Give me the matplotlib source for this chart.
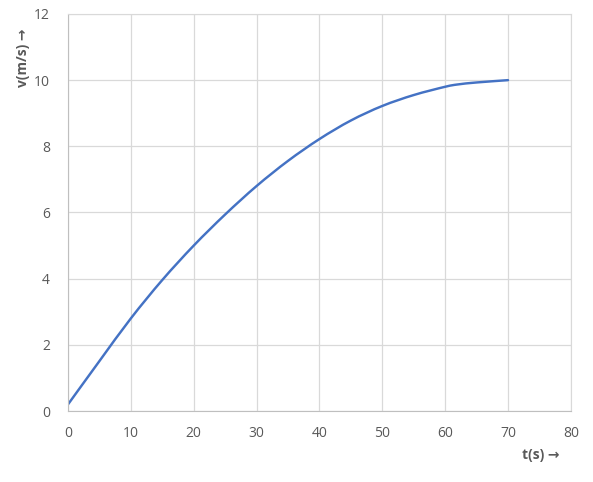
import matplotlib
matplotlib.use("Agg")
import matplotlib.pyplot as plt
from matplotlib.path import Path
from matplotlib.patches import PathPatch

t = [0, 5, 10, 15, 20, 25, 30, 35, 40, 45, 50, 55, 60, 62, 65, 70]
v = [0.2, 1.51, 2.8, 3.96, 5.0, 5.94, 6.8, 7.56, 8.22, 8.78, 9.22, 9.55, 9.8, 9.87, 9.93, 10.0]

xticks = [0, 10, 20, 30, 40, 50, 60, 70, 80]
yticks = [0, 2, 4, 6, 8, 10, 12]


def smooth_path(xs, ys):
    # excel-like smoothed line: cubic bezier through every point
    verts = [(xs[0], ys[0])]
    codes = [Path.MOVETO]
    n = len(xs)
    for i in range(n - 1):
        x0, y0 = xs[max(i - 1, 0)], ys[max(i - 1, 0)]
        x1, y1 = xs[i], ys[i]
        x2, y2 = xs[i + 1], ys[i + 1]
        x3, y3 = xs[min(i + 2, n - 1)], ys[min(i + 2, n - 1)]
        c1 = (x1 + (x2 - x0) / 6, y1 + (y2 - y0) / 6)
        c2 = (x2 - (x3 - x1) / 6, y2 - (y3 - y1) / 6)
        verts += [c1, c2, (x2, y2)]
        codes += [Path.CURVE4] * 3
    return Path(verts, codes)


plt.rcParams['font.family'] = ['Open Sans', 'DejaVu Sans']

fig = plt.figure(figsize=(5.93, 4.82), dpi=100)
ax = fig.add_axes([0.1147, 0.1473, 0.848, 0.8237])

ax.add_patch(PathPatch(smooth_path(t, v), fill=False, edgecolor="#4472C4",
                       linewidth=1.75, capstyle="round"))

ax.set_xlim(0, 80)
ax.set_ylim(0, 12)
ax.set_xticks(xticks)
ax.set_yticks(yticks)
ax.grid(True, color="#d9d9d9", linewidth=0.9)
ax.set_axisbelow(True)
for s in ax.spines.values():
    s.set_color("#d9d9d9")
ax.spines['bottom'].set_color("#bfbfbf")
ax.spines['left'].set_color("#bfbfbf")
ax.tick_params(length=0, labelsize=10, labelcolor="#595959")
ax.tick_params(axis="x", pad=11)
ax.tick_params(axis="y", pad=13)

fig.text(0.038, 0.88, "v(m/s) \u2192", rotation=90, ha="center", va="center",
         fontsize=10, fontweight="bold", color="#595959")
fig.text(0.912, 0.055, "t(s) \u2192", ha="center", va="center",
         fontsize=10, fontweight="bold", color="#595959")

fig.savefig("out.png", dpi=100)
